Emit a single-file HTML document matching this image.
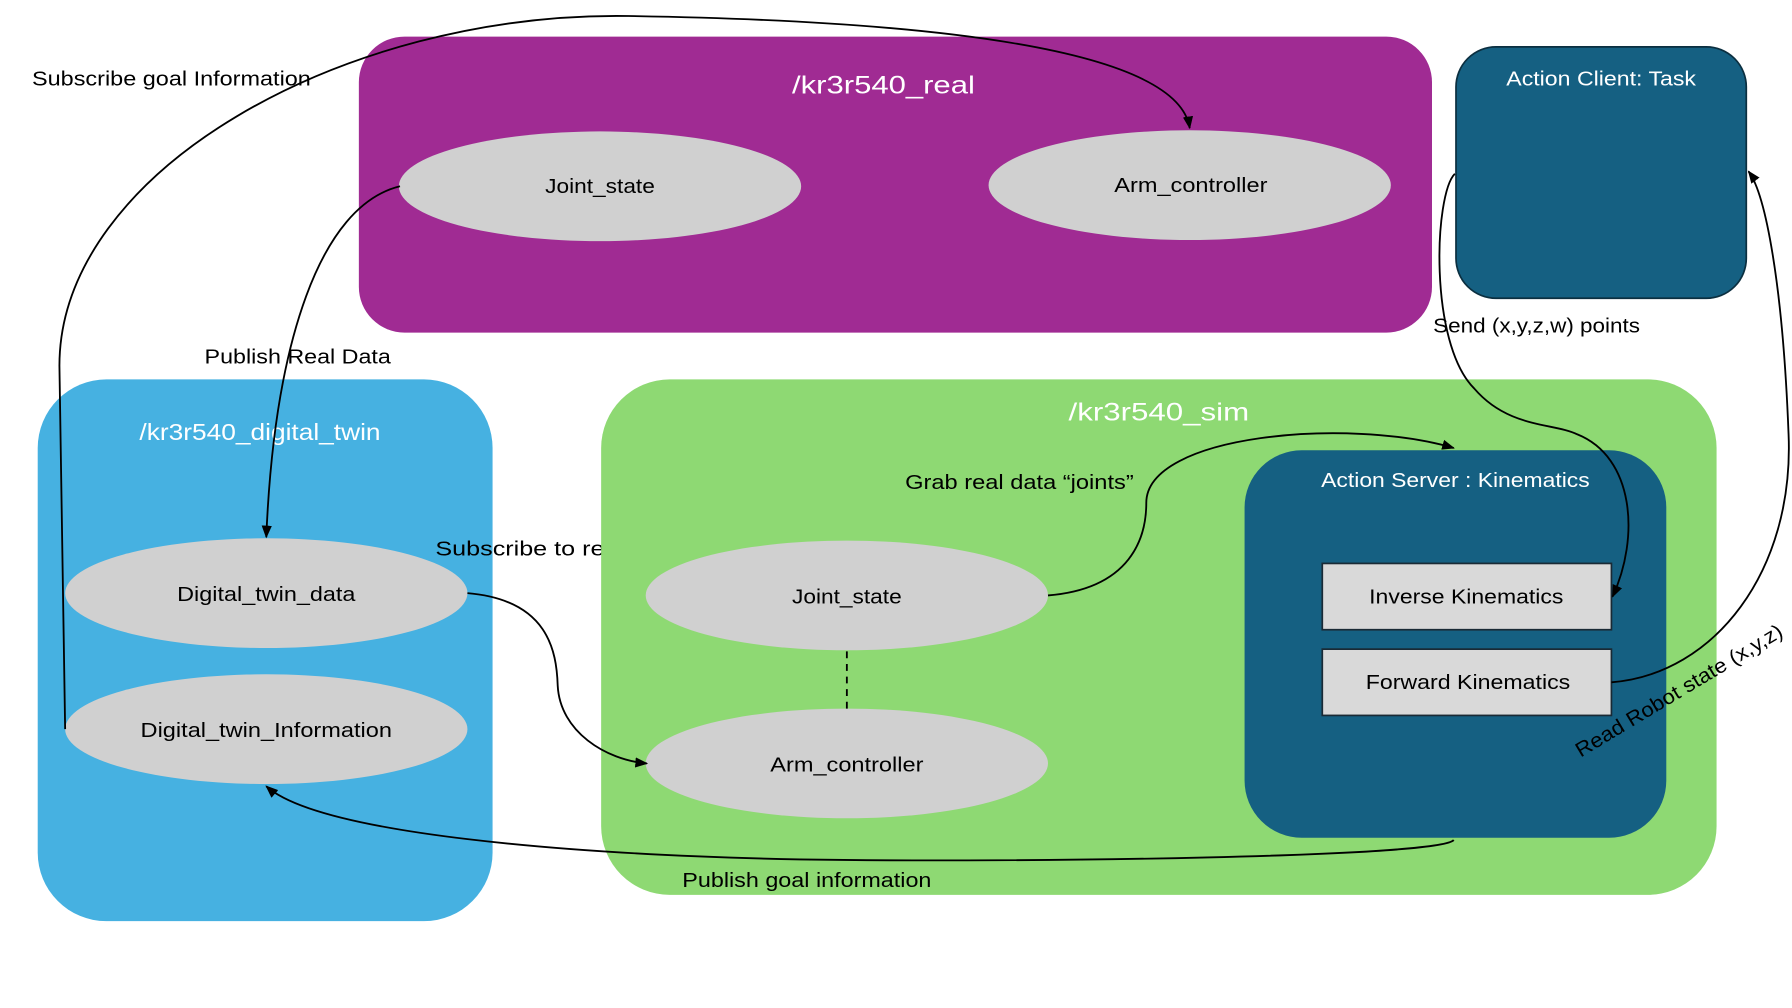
<!DOCTYPE html>
<html><head><meta charset="utf-8"><style>
html,body{margin:0;padding:0;background:#fff;}
svg{display:block;}
text{font-family:"Liberation Sans",sans-serif;}
</style></head><body>
<svg width="1792" height="1008" viewBox="0 0 1568 882" xmlns="http://www.w3.org/2000/svg">
<defs><marker id="a" viewBox="0 0 10 10" refX="9" refY="5" markerWidth="7" markerHeight="7" orient="auto-start-reverse"><path d="M0,1 L10,5 L0,9 z" fill="#000"/></marker></defs>
<rect width="1568" height="882" fill="#fff"/>
<rect x="314" y="32" width="939" height="259" rx="40" fill="#A02B93"/>
<rect x="1274" y="41" width="254" height="220" rx="35" fill="#156082" stroke="#0b2f40" stroke-width="1.5"/>
<rect x="33" y="332" width="398" height="474" rx="60" fill="#46B1E1"/>
<text x="381" y="486" font-size="18" fill="#000" textLength="165" lengthAdjust="spacingAndGlyphs">Subscribe to real</text>
<rect x="526" y="332" width="976" height="451" rx="60" fill="#8ED973"/>
<rect x="1089" y="394" width="369" height="339" rx="50" fill="#156082"/>
<g fill="#D0D0D0">
<ellipse cx="525" cy="163" rx="176" ry="48"/>
<ellipse cx="1041" cy="162" rx="176" ry="48"/>
<ellipse cx="233" cy="519" rx="176" ry="48"/>
<ellipse cx="233" cy="638" rx="176" ry="48"/>
<ellipse cx="741" cy="521" rx="176" ry="48"/>
<ellipse cx="741" cy="668" rx="176" ry="48"/>
</g>
<rect x="1157" y="493" width="253" height="58" fill="#D9D9D9" stroke="#1a2a35" stroke-width="1.5"/>
<rect x="1157" y="568" width="253" height="58" fill="#D9D9D9" stroke="#1a2a35" stroke-width="1.5"/>
<g fill="#fff" font-size="22" lengthAdjust="spacingAndGlyphs">
<text x="693" y="82" textLength="160" lengthAdjust="spacingAndGlyphs">/kr3r540_real</text>
<text x="122" y="385" font-size="20" textLength="211" lengthAdjust="spacingAndGlyphs">/kr3r540_digital_twin</text>
<text x="935" y="368" textLength="158" lengthAdjust="spacingAndGlyphs">/kr3r540_sim</text>
<text x="1318" y="75" font-size="18" textLength="166" lengthAdjust="spacingAndGlyphs">Action Client: Task</text>
<text x="1156" y="426" font-size="18" textLength="235" lengthAdjust="spacingAndGlyphs">Action Server : Kinematics</text>
</g>
<g fill="#000" font-size="18">
<text x="477" y="169" textLength="96" lengthAdjust="spacingAndGlyphs">Joint_state</text>
<text x="975" y="168" textLength="134" lengthAdjust="spacingAndGlyphs">Arm_controller</text>
<text x="155" y="526" textLength="156" lengthAdjust="spacingAndGlyphs">Digital_twin_data</text>
<text x="123" y="645" textLength="220" lengthAdjust="spacingAndGlyphs">Digital_twin_Information</text>
<text x="693" y="528" textLength="96" lengthAdjust="spacingAndGlyphs">Joint_state</text>
<text x="674" y="675" textLength="134" lengthAdjust="spacingAndGlyphs">Arm_controller</text>
<text x="1198" y="528" textLength="170" lengthAdjust="spacingAndGlyphs">Inverse Kinematics</text>
<text x="1195" y="603" textLength="179" lengthAdjust="spacingAndGlyphs">Forward Kinematics</text>
<text x="28" y="75" textLength="244" lengthAdjust="spacingAndGlyphs">Subscribe goal Information</text>
<text x="179" y="318" textLength="163" lengthAdjust="spacingAndGlyphs">Publish Real Data</text>
<text x="792" y="428" textLength="200" lengthAdjust="spacingAndGlyphs">Grab real data “joints”</text>
<text x="1254" y="291" textLength="181" lengthAdjust="spacingAndGlyphs">Send (x,y,z,w) points</text>
<text x="597" y="776" textLength="218" lengthAdjust="spacingAndGlyphs">Publish goal information</text>
<text x="0" y="0" transform="translate(1383,663) rotate(-31)" textLength="208" lengthAdjust="spacingAndGlyphs">Read Robot state (x,y,z)</text>
</g>
<g fill="none" stroke="#000" stroke-width="1.6">
<path d="M57,638 L52,320 C52,150 300,10 550,14 C800,18 1030,40 1041,112" marker-end="url(#a)"/>
<path d="M350,163 C280,180 240,300 233,470" marker-end="url(#a)"/>
<path d="M409,519 C480,525 487,570 488,600 C490,640 530,665 566,668" marker-end="url(#a)"/>
<path d="M917,521 C990,515 1003,470 1003,440 C1003,380 1180,365 1272,392" marker-end="url(#a)"/>
<path d="M1273,152 C1255,170 1250,300 1290,340 C1320,375 1360,370 1380,380 C1430,400 1435,470 1411,522" marker-end="url(#a)"/>
<path d="M1410,597 C1500,590 1570,500 1565,380 C1560,250 1545,170 1530,150" marker-end="url(#a)"/>
<path d="M1272,735 C1260,750 900,755 700,752 C500,748 280,730 233,688" marker-end="url(#a)"/>
<path d="M741,570 L741,620" stroke-dasharray="6,5"/>
</g>
</svg>
</body></html>
